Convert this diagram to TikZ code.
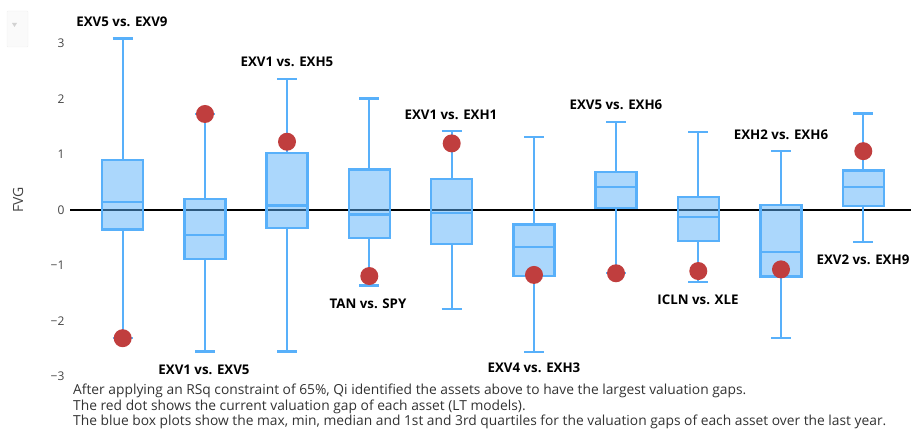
\documentclass[tikz,border=0pt]{standalone}
\usepackage{fontspec}
\usepackage{tikz}
\usetikzlibrary{calc}
\setmainfont{Open Sans}
\definecolor{boxblue}{RGB}{88,176,250}
\definecolor{dotred}{RGB}{192,62,62}
\definecolor{axisgray}{RGB}{68,68,68}
\definecolor{notegray}{RGB}{50,50,50}
\tikzset{
    whisker/.style = {boxblue, line width = 2.2pt},
    boxbody/.style = {draw = boxblue, line width = 2.2pt, fill = boxblue, fill opacity = 0.5},
    gapdot/.style = {fill = dotred},
    pairlabel/.style = {font = \bfseries\fontsize{13.3}{15}\selectfont, text = black},
    ticklabel/.style = {font = \fontsize{12}{14}\selectfont, text = axisgray, anchor = east}
}
% #1 centre, #2 max, #3 q3, #4 median, #5 q1, #6 min, #7 current gap
\newcommand{\gapbox}[7]{
    \draw[whisker] (#1 - 10, #2) -- (#1 + 10, #2);
    \draw[whisker] (#1, #2) -- (#1, #3);
    \draw[whisker] (#1, #5) -- (#1, #6);
    \draw[whisker] (#1 - 10, #6) -- (#1 + 10, #6);
    \draw[boxbody] (#1 - 20.5, #5) rectangle (#1 + 20.5, #3);
    \draw[whisker] (#1 - 20.5, #4) -- (#1 + 20.5, #4);
    \fill[gapdot] (#1, #7) circle (9pt);
}

\begin{document}
\begin{tikzpicture}[x = 1pt, y = 1pt]
    \useasboundingbox (0, 0) rectangle (911, 430);

    % dropdown menu in the corner
    \draw[gray!12, fill = gray!4, rounded corners = 1pt] (7, 383) rectangle (28, 419);
    \fill[gray!35] (12, 407) -- (17, 407) -- (14.5, 403) -- cycle;

    \node[rotate = 90, font = \fontsize{14}{16}\selectfont, text = axisgray] (fvg) at (18, 230) {FVG};

    \begin{scope}[shift = {(0, 220)}, y = 55.5pt]
        \coordinate (zero_left) at (70, 0);
        \coordinate (zero_right) at (911, 0);

        \node[ticklabel] (tick_p3) at (68, 3) {3};
        \node[ticklabel] (tick_p2) at (68, 2) {2};
        \node[ticklabel] (tick_p1) at (68, 1) {1};
        \node[ticklabel] (tick_0) at (68, 0) {0};
        \node[ticklabel] (tick_m1) at (68, -1) {−1};
        \node[ticklabel] (tick_m2) at (68, -2) {−2};
        \node[ticklabel] (tick_m3) at (68, -3) {−3};

        \draw[black, line width = 2.5pt] (zero_left) -- (zero_right);

        \gapbox{122.7}{3.09}{0.90}{0.14}{-0.35}{-2.31}{-2.31}
        \gapbox{205}{1.73}{0.20}{-0.45}{-0.89}{-2.55}{1.73}
        \gapbox{287}{2.36}{1.03}{0.08}{-0.32}{-2.55}{1.23}
        \gapbox{369.3}{2.01}{0.73}{-0.08}{-0.50}{-1.36}{-1.19}
        \gapbox{451.7}{1.42}{0.56}{-0.05}{-0.61}{-1.79}{1.20}
        \gapbox{534}{1.32}{-0.26}{-0.67}{-1.19}{-2.56}{-1.17}
        \gapbox{616}{1.59}{0.69}{0.42}{0.03}{-1.14}{-1.14}
        \gapbox{698.3}{1.40}{0.23}{-0.12}{-0.56}{-1.30}{-1.10}
        \gapbox{781}{1.06}{0.09}{-0.76}{-1.20}{-2.30}{-1.07}
        \gapbox{863.3}{1.74}{0.71}{0.42}{0.07}{-0.57}{1.06}
    \end{scope}

    \node[pairlabel] (exv5_exv9) at (122, 408) {EXV5 vs. EXV9};
    \node[pairlabel] (exv1_exv5) at (204, 60) {EXV1 vs. EXV5};
    \node[pairlabel] (exv1_exh5) at (287, 368) {EXV1 vs. EXH5};
    \node[pairlabel] (tan_spy) at (368, 126) {TAN vs. SPY};
    \node[pairlabel] (exv1_exh1) at (451, 315) {EXV1 vs. EXH1};
    \node[pairlabel] (exv4_exh3) at (534, 62) {EXV4 vs. EXH3};
    \node[pairlabel] (exv5_exh6) at (616, 325) {EXV5 vs. EXH6};
    \node[pairlabel] (icln_xle) at (698, 130) {ICLN vs. XLE};
    \node[pairlabel] (exh2_exh6) at (781, 295) {EXH2 vs. EXH6};
    \node[pairlabel] (exv2_exh9) at (863, 170) {EXV2 vs. EXH9};

    \node[align = left, anchor = north west, inner sep = 0pt, text = notegray,
          font = \fontsize{13.8}{15.5}\selectfont] (note) at (73, 46)
        {After applying an RSq constraint of 65\%, Qi identified the assets above to have the largest valuation gaps.\\
         The red dot shows the current valuation gap of each asset (LT models).\\
         The blue box plots show the max, min, median and 1st and 3rd quartiles for the valuation gaps of each asset over the last year.};
\end{tikzpicture}
\end{document}
